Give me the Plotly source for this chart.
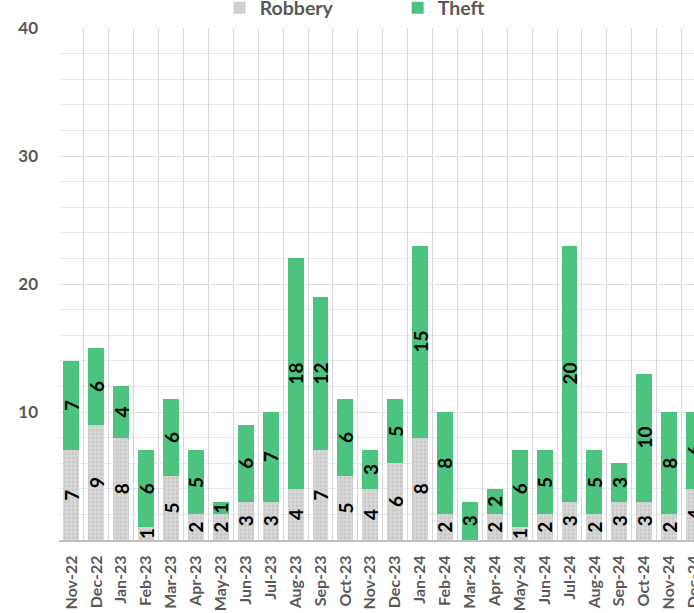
import plotly.graph_objects as go

months = ["Nov-22", "Dec-22", "Jan-23", "Feb-23", "Mar-23", "Apr-23", "May-23", "Jun-23",
          "Jul-23", "Aug-23", "Sep-23", "Oct-23", "Nov-23", "Dec-23", "Jan-24", "Feb-24",
          "Mar-24", "Apr-24", "May-24", "Jun-24", "Jul-24", "Aug-24", "Sep-24", "Oct-24",
          "Nov-24", "Dec-24"]
robbery = [7, 9, 8, 1, 5, 2, 2, 3, 3, 4, 7, 5, 4, 6, 8, 2, 0, 2, 1, 2, 3, 2, 3, 3, 2, 4]
theft = [7, 6, 4, 6, 6, 5, 1, 6, 7, 18, 12, 6, 3, 5, 15, 8, 3, 2, 6, 5, 20, 5, 3, 10, 8, 6]
y_ticks = [10, 20, 30, 40]

FONT = "Lato"
GREY_TXT = "#595959"
LBL = 19

fig = go.Figure()
fig.add_trace(go.Bar(
    name="Robbery", x=months, y=robbery,
    text=[str(v) if v else "" for v in robbery],
    textposition="inside", insidetextanchor="middle", textangle=-90,
    textfont=dict(family=FONT, size=LBL, color="black", weight="bold"),
    marker=dict(color="#D4D4D4", line=dict(width=0),
                pattern=dict(shape=".", fgcolor="#B8B8B8", bgcolor="#D8D8D8",
                             size=4, solidity=0.4)),
    cliponaxis=True,
))
fig.add_trace(go.Bar(
    name="Theft", x=months, y=theft,
    text=[str(v) if v else "" for v in theft],
    textposition="inside", insidetextanchor="middle", textangle=-90,
    textfont=dict(family=FONT, size=LBL, color="black", weight="bold"),
    marker=dict(color="#4CC47F", line=dict(width=0)),
    cliponaxis=True,
))

fig.update_layout(
    barmode="stack",
    bargap=0.36,
    width=694, height=613,
    margin=dict(l=59, r=0, t=28, b=73, autoexpand=False),
    paper_bgcolor="white", plot_bgcolor="white",
    font=dict(family=FONT, color=GREY_TXT),
    uniformtext=dict(minsize=LBL, mode="show"),
    showlegend=True,
    legend=dict(orientation="h", x=0.253, xanchor="left", y=1.039, yanchor="middle",
                font=dict(family=FONT, size=19.5, color=GREY_TXT, weight="bold"),
                entrywidth=133, entrywidthmode="pixels", itemwidth=30,
                itemsizing="constant", bgcolor="rgba(0,0,0,0)",
                traceorder="normal"),
    xaxis=dict(
        type="category", range=[-0.5, 25.0],
        tickangle=-90, tickson="boundaries", ticks="",
        showgrid=True, gridcolor="#D8D8D8", gridwidth=1.3,
        showline=True, linecolor="#BFBFBF", linewidth=2,
        tickfont=dict(family=FONT, size=16, color=GREY_TXT, weight="bold"),
        ticklabelstandoff=7,
        fixedrange=True,
    ),
    yaxis=dict(
        range=[0, 40], tickvals=y_ticks, ticktext=[str(v) for v in y_ticks],
        showgrid=True, gridcolor="#E0E0E0", gridwidth=1.3,
        minor=dict(dtick=2, showgrid=True, gridcolor="#E8E8E8", gridwidth=1.3),
        zeroline=False, showline=False, ticks="",
        tickfont=dict(family=FONT, size=17, color=GREY_TXT, weight="bold"),
        ticklabelstandoff=20,
        fixedrange=True,
    ),
)

# remove the browser's default 8px page margin so the figure fills the window
fig.write_html("out.html", config={"displayModeBar": False},
               post_script="document.body.style.margin='0';")
